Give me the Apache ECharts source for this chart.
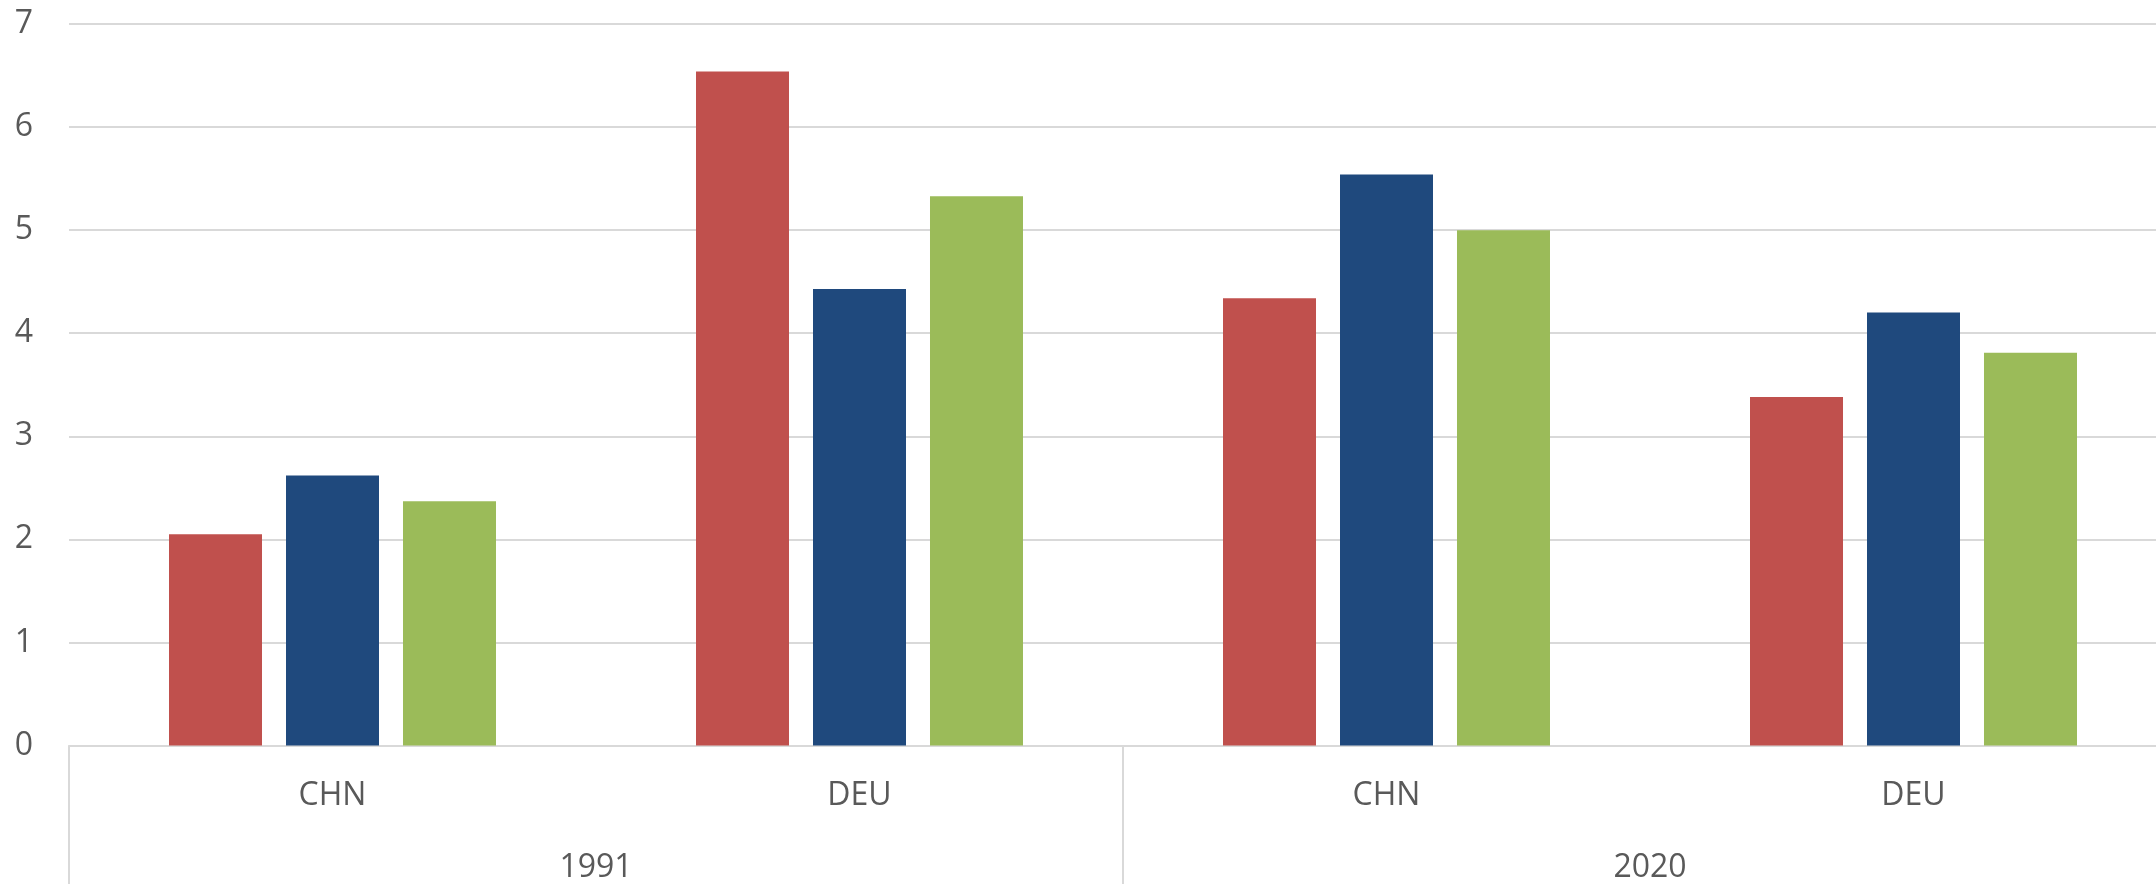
<!DOCTYPE html>
<html>
<head>
<meta charset="utf-8">
<script src="https://cdn.jsdelivr.net/npm/echarts@6/dist/echarts.min.js"></script>
<style>
html,body{margin:0;padding:0;background:#fff;overflow:hidden;width:2156px;height:884px;}
#chart{width:2200px;height:884px;}
</style>
</head>
<body>
<div id="chart"></div>
<script>
const categories = ['CHN', 'DEU', 'CHN', 'DEU'];
const years = ['1991', '2020'];
const seriesRed = [2.05, 6.54, 4.34, 3.38];
const seriesBlue = [2.62, 4.43, 5.54, 4.20];
const seriesGreen = [2.37, 5.33, 5.00, 3.81];
const yTicks = { min: 0, max: 7, interval: 1 };

const font = '"Open Sans", "Noto Sans", sans-serif';
const textColor = '#595959';
const lineColor = '#d9d9d9';

const chart = echarts.init(document.getElementById('chart'), null, { renderer: 'canvas' });
chart.setOption({
  animation: false,
  backgroundColor: '#ffffff',
  grid: { left: 69, right: 23, top: 24, bottom: 138.5 },
  xAxis: [
    {
      type: 'category',
      data: categories,
      position: 'bottom',
      axisLine: { show: true, lineStyle: { color: lineColor, width: 2 } },
      axisTick: { show: false },
      axisLabel: { color: textColor, fontFamily: font, fontSize: 32, lineHeight: 32, margin: 34 }
    },
    {
      type: 'category',
      data: years,
      position: 'bottom',
      offset: 0,
      axisLine: { show: false },
      axisTick: { show: true, length: 140, interval: 0, lineStyle: { color: lineColor, width: 2 } },
      axisLabel: { color: textColor, fontFamily: font, fontSize: 32, lineHeight: 32, margin: 106, interval: 0 }
    }
  ],
  yAxis: {
    type: 'value',
    min: yTicks.min,
    max: yTicks.max,
    interval: yTicks.interval,
    axisLine: { show: false },
    axisTick: { show: false },
    axisLabel: { color: textColor, fontFamily: font, fontSize: 32, margin: 36 },
    splitLine: { show: true, lineStyle: { color: lineColor, width: 2 } }
  },
  series: [
    { type: 'bar', data: seriesRed, barWidth: 93, barGap: '25.8%', itemStyle: { color: '#C0504D' } },
    { type: 'bar', data: seriesBlue, barWidth: 93, barGap: '25.8%', itemStyle: { color: '#1F497D' } },
    { type: 'bar', data: seriesGreen, barWidth: 93, barGap: '25.8%', itemStyle: { color: '#9BBB59' } }
  ]
});
</script>
</body>
</html>
